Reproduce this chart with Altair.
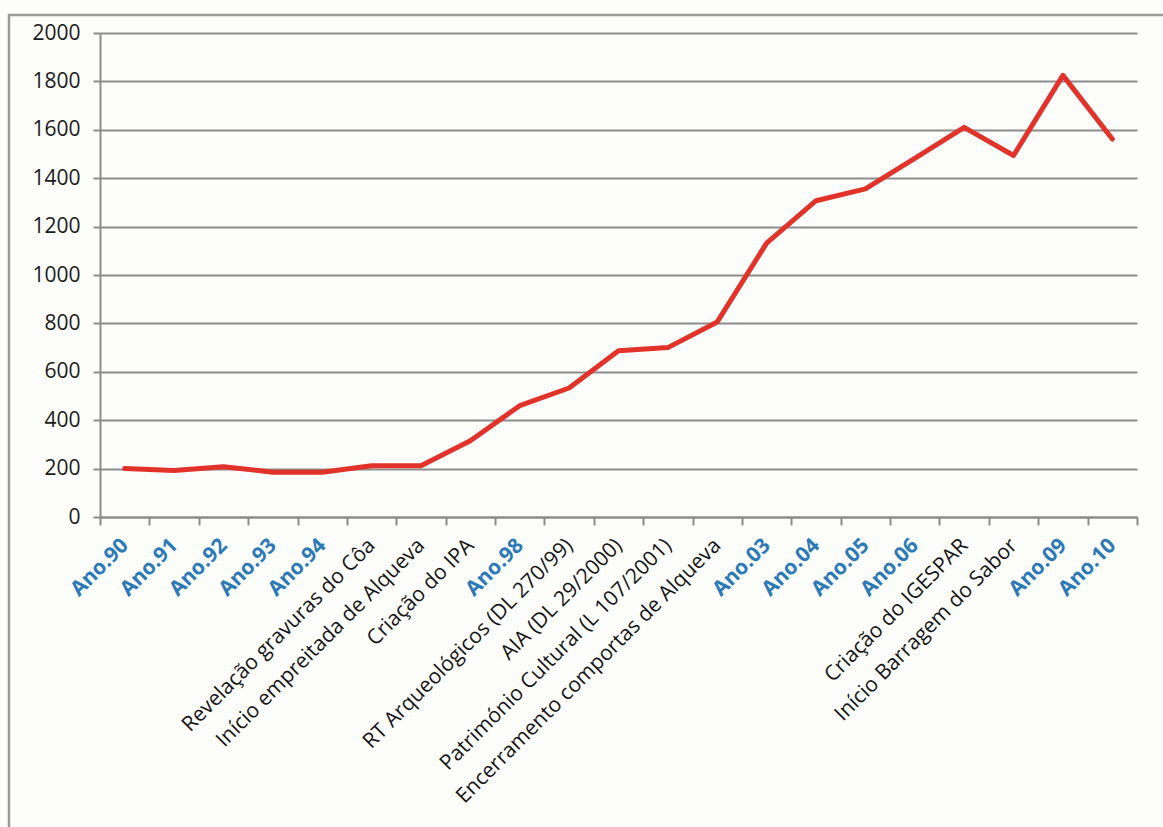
import altair as alt
import pandas as pd

categories = [
    "Ano.90", "Ano.91", "Ano.92", "Ano.93", "Ano.94",
    "Revelação gravuras do Côa",
    "Início empreitada de Alqueva",
    "Criação do IPA",
    "Ano.98",
    "RT Arqueológicos (DL 270/99)",
    "AIA (DL 29/2000)",
    "Património Cultural  (L 107/2001)",
    "Encerramento comportas de Alqueva",
    "Ano.03", "Ano.04", "Ano.05", "Ano.06",
    "Criação do IGESPAR",
    "Início Barragem do Sabor",
    "Ano.09", "Ano.10",
]
values = [200, 192, 208, 185, 185, 212, 212, 315, 460, 533, 687, 700, 806,
          1132, 1307, 1356, 1482, 1610, 1494, 1825, 1562]
y_ticks = [0, 200, 400, 600, 800, 1000, 1200, 1400, 1600, 1800, 2000]

df = pd.DataFrame({"cat": categories, "val": values})

FONT = "Open Sans"
GRAY = "#8c8c8c"
W, H = 1037, 484
HALF_BAND = W / len(categories) / 2

xscale = alt.Scale(type="band", paddingInner=0, paddingOuter=0)

frame = alt.Chart(alt.Data(values=[{"a": 1}])).mark_rect(
    fill="transparent", stroke="#9a9a9a", strokeWidth=2.5
).encode(
    x=alt.value(-91), x2=alt.value(1080),
    y=alt.value(-18), y2=alt.value(810),
)

line = alt.Chart(df).mark_line(
    color="#e2332a", strokeWidth=5, strokeJoin="round", strokeCap="round"
).encode(
    x=alt.X(
        "cat:N",
        sort=categories,
        scale=xscale,
        axis=alt.Axis(
            title=None,
            orient="bottom",
            labelAngle=-45,
            labelAlign="right",
            labelBaseline="middle",
            labelFont=FONT,
            labelFontSize=21,
            labelPadding=17,
            labelColor=alt.condition(
                "indexof(datum.value, 'Ano.') === 0",
                alt.value("#2b7ab7"), alt.value("#151515")),
            labelFontWeight=alt.condition(
                "indexof(datum.value, 'Ano.') === 0",
                alt.value("bold"), alt.value("normal")),
            labelOverlap=False,
            labelLimit=0,
            tickOffset=-HALF_BAND,
            labelOffset=HALF_BAND,
            tickSize=8,
            tickColor=GRAY,
            tickWidth=2,
            domainColor=GRAY,
            domainWidth=2,
            grid=False,
        ),
    ),
    y=alt.Y(
        "val:Q",
        scale=alt.Scale(domain=[0, 2000], nice=False),
        axis=alt.Axis(
            title=None,
            values=y_ticks,
            format="d",
            labelFont=FONT,
            labelFontSize=21,
            labelColor="#1a1a1a",
            labelPadding=13,
            tickSize=7,
            tickColor=GRAY,
            tickWidth=2,
            domainColor=GRAY,
            domainWidth=2,
            gridColor=GRAY,
            gridWidth=2,
            gridOpacity=1,
        ),
    ),
)

last_tick = alt.Chart(df).mark_point(opacity=0).encode(
    x=alt.X(
        "cat:N",
        sort=categories,
        scale=xscale,
        axis=alt.Axis(
            title=None,
            orient="bottom",
            values=[categories[-1]],
            bandPosition=1,
            labels=False,
            domain=False,
            grid=False,
            tickSize=8,
            tickColor=GRAY,
            tickWidth=2,
        ),
    ),
)

chart = alt.layer(frame, line, last_tick).resolve_axis(
    x="independent"
).properties(
    width=W,
    height=H,
    autosize=alt.AutoSizeParams(type="none"),
    padding={"left": 100, "top": 33, "right": 26, "bottom": 310},
    background="#fdfdfb",
).configure_view(stroke=None)

chart.save("out.html", embed_options={"renderer": "svg", "actions": False})
